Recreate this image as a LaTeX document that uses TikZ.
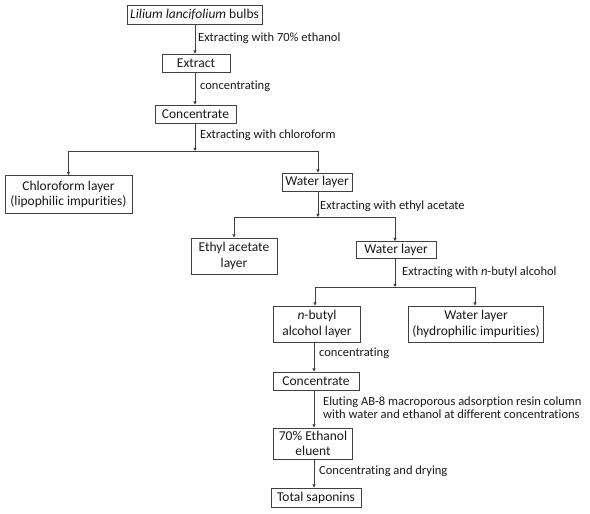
\documentclass[tikz,border=0pt]{standalone}
\usepackage{fontspec}
\setmainfont[Ligatures={NoCommon}]{Carlito}
\usetikzlibrary{arrows.meta,positioning,calc}

\begin{document}
\begin{tikzpicture}[x=1pt, y=-1pt,
    box/.style={draw=black!75, line width=0.9pt, align=center, inner sep=0pt, font=\fontsize{13.5}{15.5}\selectfont, text=black!90},
    lbl/.style={anchor=west, inner sep=0pt, align=left, font=\fontsize{12.5}{13}\selectfont, text=black!90},
    arr/.style={-{Triangle[length=3.2pt, width=3.2pt]}, line width=0.9pt, black!75},
]
\useasboundingbox (0,0) rectangle (590,514);

% main chain
\node[box, minimum width=135, minimum height=19] (lil) at (194.5,14.5) {\textit{Lilium lancifolium} bulbs};
\node[box, minimum width=68, minimum height=18] (ext) at (196,63) {Extract};
\node[box, minimum width=81, minimum height=18] (con) at (195.5,114) {Concentrate};
\coordinate (b1) at (195,151);

\node[box, minimum width=127, minimum height=38] (chl) at (68.5,194.5) {Chloroform layer\\(lipophilic impurities)};
\node[box, minimum width=70, minimum height=18] (wa) at (317,182) {Water layer};
\coordinate (b2) at (318,217);

\node[box, minimum width=86, minimum height=36] (eth) at (234,256) {Ethyl acetate\\layer};
\node[box, minimum width=80, minimum height=17] (wb) at (396,250) {Water layer};
\coordinate (b3) at (395,287);

\node[box, minimum width=87, minimum height=36] (but) at (317,324) {\textit{n}-butyl\\alcohol layer};
\node[box, minimum width=135, minimum height=36] (hyd) at (476,324) {Water layer\\(hydrophilic impurities)};

\node[box, minimum width=86, minimum height=18] (cnb) at (316,381) {Concentrate};
\node[box, minimum width=79, minimum height=31] (elu) at (313,443.5) {70\% Ethanol\\eluent};
\node[box, minimum width=90, minimum height=19] (tot) at (316,497.5) {Total saponins};

% connectors
\draw[arr] (lil.south -| 195,0) -- (ext.north -| 195,0);
\draw[arr] (ext.south -| 195,0) -- (con.north -| 195,0);
\draw[arr] (con.south -| b1) -- (b1);
\draw[arr] (b1) -| (chl.north);
\draw[arr] (b1) -| (wa.north -| b2);
\draw[arr] (wa.south -| b2) -- (b2);
\draw[arr] (b2) -| (eth.north);
\draw[arr] (b2) -| (wb.north -| b3);
\draw[arr] (wb.south -| b3) -- (b3);
\draw[arr] (b3) -| (but.north -| 315,0);
\draw[arr] (b3) -| (hyd.north -| 475,0);
\draw[arr] (but.south -| 314,0) -- (cnb.north -| 314,0);
\draw[arr] (cnb.south -| 314,0) -- (elu.north -| 314,0);
\draw[arr] (elu.south -| 314,0) -- (tot.north -| 314,0);

% labels
\node[lbl] (l1) at (198,38) {Extracting with 70\% ethanol};
\node[lbl] (l2) at (200,86) {concentrating};
\node[lbl] (l3) at (200,135) {Extracting with chloroform};
\node[lbl] (l4) at (320,206) {Extracting with ethyl acetate};
\node[lbl] (l5) at (402,272) {Extracting with \textit{n}-butyl alcohol};
\node[lbl] (l6) at (319,353) {concentrating};
\node[lbl] (l7) at (323,408) {Eluting AB-8 macroporous adsorption resin column\\with water and ethanol at different concentrations};
\node[lbl] (l8) at (319,471) {Concentrating and drying};
\end{tikzpicture}
\end{document}
